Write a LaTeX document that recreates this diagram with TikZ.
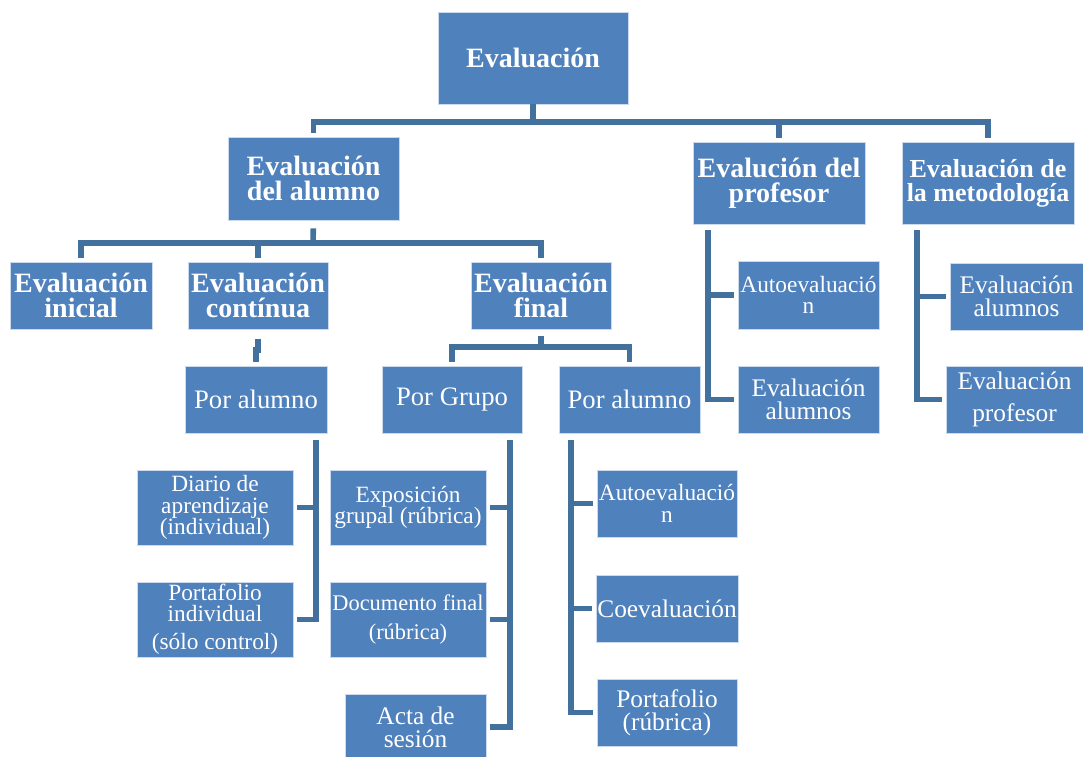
\documentclass[tikz,border=0pt]{standalone}
\usepackage{fontspec}
\setmainfont{Liberation Serif}
\usetikzlibrary{calc}
\definecolor{boxblue}{HTML}{4F81BD}
\definecolor{lineblue}{HTML}{41719C}

\begin{document}
\begin{tikzpicture}[x=0.75pt, y={(0,-0.75pt)}]
	\tikzstyle{every node} = [rectangle, fill=boxblue, draw=white!70!boxblue, line width=0.5pt, text=white, align=center, inner sep=1pt]
	\tikzset{
		sz/.style 2 args = {minimum width=#1*0.75pt, minimum height=#2*0.75pt},
		hd/.style  = {font=\bfseries\fontsize{21}{19}\selectfont},
		tbig/.style = {font=\fontsize{20}{18}\selectfont},
		tmid/.style = {font=\fontsize{19}{17.5}\selectfont},
		tsml/.style = {font=\fontsize{17.5}{16}\selectfont},
		conn/.style = {draw=lineblue, line width=4.2pt, line join=miter},
		gap/.style  = {shorten >=3pt}
	}
	\useasboundingbox (0,0) rectangle (1083,757);
	% top and first level
	\node[hd, sz={190}{92}]  (ev)    at (533,58)      {Evaluación};
	\node[hd, sz={171}{83}]  (alu)   at (313.5,178.5) {Evaluación\\del alumno};
	\node[hd, sz={172}{82}]  (prof)  at (779,183)     {Evalución del\\profesor};
	\node[hd, sz={172}{82}, font=\bfseries\fontsize{19.5}{18}\selectfont]
	                         (met)   at (988,183)     {Evaluación de\\la metodología};
	% alumno
	\node[hd, sz={142}{67}]  (ini)   at (81,295.5)    {Evaluación\\inicial};
	\node[hd, sz={140}{67}]  (con)   at (258,295.5)   {Evaluación\\contínua};
	\node[hd, sz={140}{67}]  (fin)   at (541,295.5)   {Evaluación\\final};
	\node[tbig, sz={142}{67}] (paC)  at (256,399.5)   {Por alumno};
	\node[tbig, sz={140}{67}] (grp)  at (452,399.5)   {Por Grupo};
	\node[tbig, sz={141}{67}] (paF)  at (629.5,399.5) {Por alumno};
	\node[tsml, sz={156}{75}] (diario)  at (215,507.5) {Diario de\\aprendizaje\\(individual)};
	\node[tsml, sz={156}{75}] (portind) at (215,619.5) {Portafolio\\individual\\[5pt](sólo control)};
	\node[tsml, sz={156}{75}] (expo)    at (408,507.5) {Exposición\\grupal (rúbrica)};
	\node[tsml, sz={156}{75}, font=\fontsize{16.8}{16}\selectfont, inner sep=0pt]
	                          (doc)     at (408,619.5) {Documento final\\[6pt](rúbrica)};
	\node[tmid, sz={141}{66}] (acta)    at (415.5,727) {Acta de\\sesión};
	\node[tsml, sz={140}{67}] (auto2)   at (667,503.5) {Autoevaluació\\n};
	\node[tmid, sz={140}{67}] (coev)    at (667,608.5) {Coevaluación};
	\node[tmid, sz={140}{67}] (portr)   at (667,712.5) {Portafolio\\(rúbrica)};
	% profesor y metodologia
	\node[tsml, sz={141}{68}] (auto1)   at (808.5,295)   {Autoevaluació\\n};
	\node[tmid, sz={141}{67}] (evalu1)  at (808.5,399.5) {Evaluación\\alumnos};
	\node[tmid, sz={133}{67}] (evalu2)  at (1016.5,296.5) {Evaluación\\alumnos};
	\node[tmid, sz={137}{67}] (evprof)  at (1014.5,399.5) {Evaluación\\[7pt]profesor};
	% buses
	\coordinate (b0) at (533,122);
	\coordinate (b1) at (313,243);
	\coordinate (j1) at (257,350);
	\coordinate (b2) at (541,347);
	\coordinate (s1) at (316,440);
	\coordinate (s2) at (510,440);
	\coordinate (s3) at (571,440);
	\coordinate (s4) at (708,230);
	\coordinate (s5) at (917,230);
	\draw[conn]      (ev.south)  -- (b0);
	\draw[conn, gap] (b0) -| (alu.north);
	\draw[conn, gap] (b0) -| (prof.north);
	\draw[conn, gap] (b0) -| (met.north);
	\draw[conn, shorten <=6pt] (alu.south) -- (b1);
	\draw[conn, gap] (b1) -| (ini.north);
	\draw[conn, gap] (b1) -| (con.north);
	\draw[conn, gap] (b1) -| (fin.north);
	\draw[conn, shorten <=7pt, gap] (con.south) |- (j1) -| (paC.north);
	\draw[conn, shorten <=5pt] (fin.south) -- (b2);
	\draw[conn, gap] (b2) -| (grp.north);
	\draw[conn, gap] (b2) -| (paF.north);
	\draw[conn, gap] (s1) |- (diario.east);
	\draw[conn, gap] (s1) |- (portind.east);
	\draw[conn, gap] (s2) |- (expo.east);
	\draw[conn, gap] (s2) |- (doc.east);
	\draw[conn, gap] (s2) |- (acta.east);
	\draw[conn, gap] (s3) |- (auto2.west);
	\draw[conn, gap] (s3) |- (coev.west);
	\draw[conn, gap] (s3) |- (portr.west);
	\draw[conn, gap] (s4) |- (auto1.west);
	\draw[conn, gap] (s4) |- (evalu1.west);
	\draw[conn, gap] (s5) |- (evalu2.west);
	\draw[conn, gap] (s5) |- (evprof.west);
\end{tikzpicture}
\end{document}
